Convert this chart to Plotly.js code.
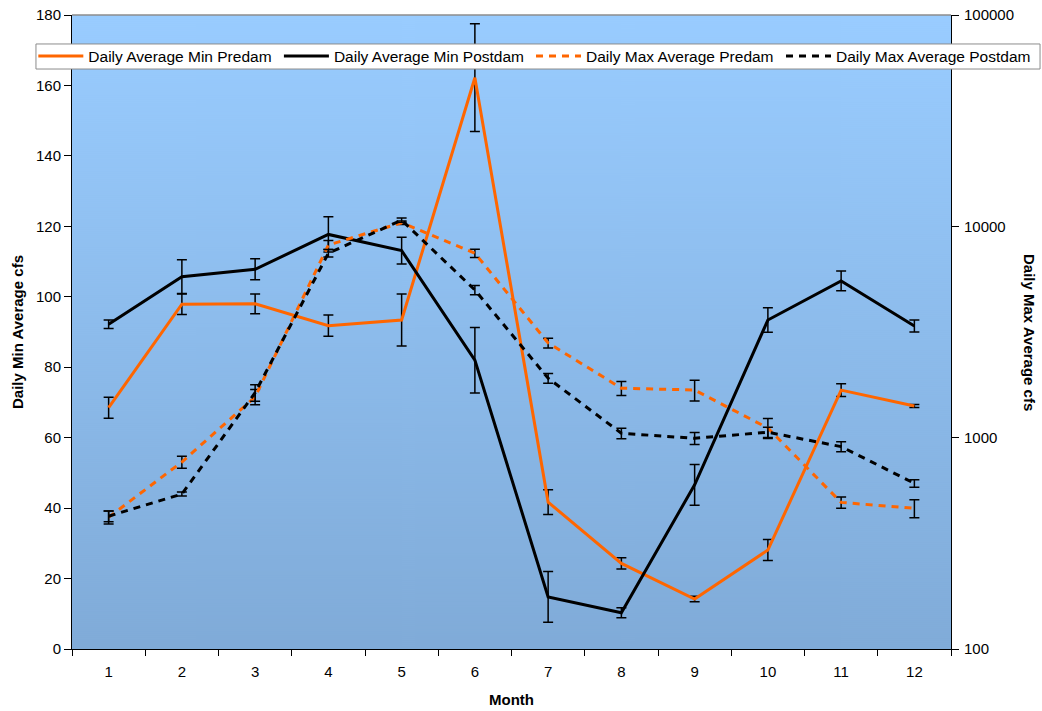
<!DOCTYPE html>
<html>
<head>
<meta charset="utf-8">
<script src="https://cdn.plot.ly/plotly-3.0.1.min.js"></script>
<style>
  html, body { margin: 0; padding: 0; background: #ffffff; }
  #chart { width: 1042px; height: 711px; }
</style>
</head>
<body>
<div id="chart"></div>
<script>
// Months on the category axis
const months = ['1', '2', '3', '4', '5', '6', '7', '8', '9', '10', '11', '12'];

// Daily average minimum flow (cfs), left axis
const minPredam     = [68.5, 97.9, 98.0, 91.8, 93.4, 162.2, 41.7, 24.3, 14.2, 28.1, 73.5, 69.0];
const minPredamErr  = [3.0, 2.9, 2.8, 3.0, 7.4, 15.3, 3.5, 1.6, 0.8, 3.0, 1.8, 0.4];
const minPostdam    = [92.2, 105.7, 107.8, 117.7, 113.1, 82.0, 14.8, 10.3, 46.6, 93.4, 104.5, 91.7];
const minPostdamErr = [1.2, 4.8, 3.0, 5.0, 3.8, 9.3, 7.2, 1.4, 5.8, 3.5, 2.8, 1.7];

// Daily average maximum flow (cfs), right log axis
const maxPredam     = [420, 767, 1560, 8160, 10400, 7460, 2806, 1714, 1681, 1111, 494, 463];
const maxPredamErr  = [30, 50, 130, 400, 200, 330, 150, 130, 190, 120, 30, 45];
const maxPostdam    = [425, 541, 1633, 7460, 10700, 5000, 1910, 1049, 993, 1061, 907, 608];
const maxPostdamErr = [25, 12, 145, 300, 250, 250, 100, 60, 65, 60, 50, 25];

const rightTickVals = [100, 1000, 10000, 100000];
const rightTickText = ['100', '1000', '10000', '100000'];

const seriesNames = ['Daily Average Min Predam', 'Daily Average Min Postdam',
                     'Daily Max Average Predam', 'Daily Max Average Postdam'];

const ORANGE = '#FF6600';
const FONT = 'Liberation Sans, Arial, sans-serif';

function errBars(arr) {
  return { type: 'data', array: arr, symmetric: true, visible: true,
           color: '#000000', thickness: 1.5, width: 5 };
}

// Vertical blue gradient used behind the plot area
function gradientURL() {
  const c = document.createElement('canvas');
  c.width = 4; c.height = 634;
  const g = c.getContext('2d');
  const grd = g.createLinearGradient(0, 0, 0, c.height);
  grd.addColorStop(0, '#99CCFF');
  grd.addColorStop(1, '#80ABD8');
  g.fillStyle = grd;
  g.fillRect(0, 0, c.width, c.height);
  return c.toDataURL('image/png');
}

const traces = [
  { x: months, y: minPredam, error_y: errBars(minPredamErr), type: 'scatter', mode: 'lines',
    name: seriesNames[0], line: { color: ORANGE, width: 3 }, yaxis: 'y', legend: 'legend' },
  { x: months, y: minPostdam, error_y: errBars(minPostdamErr), type: 'scatter', mode: 'lines',
    name: seriesNames[1], line: { color: '#000000', width: 3 }, yaxis: 'y', legend: 'legend2' },
  { x: months, y: maxPredam, error_y: errBars(maxPredamErr), type: 'scatter', mode: 'lines',
    name: seriesNames[2], line: { color: ORANGE, width: 3, dash: '7px,6px' }, yaxis: 'y2', legend: 'legend3' },
  { x: months, y: maxPostdam, error_y: errBars(maxPostdamErr), type: 'scatter', mode: 'lines',
    name: seriesNames[3], line: { color: '#000000', width: 3, dash: '7px,6px' }, yaxis: 'y2', legend: 'legend4' }
];

// One single-row legend strip: each series gets its own legend block laid side by side
function legendAt(x) {
  return {
    orientation: 'h', x: x, y: 0.9345, xanchor: 'left', yanchor: 'middle',
    bgcolor: 'rgba(0,0,0,0)', borderwidth: 0, itemwidth: 45,
    font: { family: FONT, size: 15.5, color: '#000000' }
  };
}

const layout = {
  width: 1042, height: 711,
  margin: { l: 72, r: 91, t: 15, b: 62, autoexpand: false },
  paper_bgcolor: '#ffffff',
  plot_bgcolor: 'rgba(0,0,0,0)',
  font: { family: FONT, size: 15, color: '#000000' },
  showlegend: true,
  legend: legendAt(-0.044),
  legend2: legendAt(0.2354),
  legend3: legendAt(0.5222),
  legend4: legendAt(0.8066),
  xaxis: {
    type: 'category', range: [-0.5, 11.5], tickson: 'boundaries',
    ticks: 'outside', ticklen: 6, tickcolor: '#000000', tickwidth: 1,
    showline: true, linecolor: '#000000', linewidth: 1, showgrid: false, zeroline: false,
    tickfont: { family: FONT, size: 15 }, ticklabelstandoff: 9,
    title: { text: '<b>Month</b>', font: { family: FONT, size: 15 }, standoff: 15 }
  },
  yaxis: {
    range: [0, 180], dtick: 20, tick0: 0,
    ticks: 'outside', ticklen: 7, tickcolor: '#000000', tickwidth: 1,
    showline: true, linecolor: '#000000', linewidth: 1, showgrid: false, zeroline: false,
    tickfont: { family: FONT, size: 15 }
  },
  yaxis2: {
    type: 'log', range: [2, 5], overlaying: 'y', side: 'right',
    tickmode: 'array', tickvals: rightTickVals, ticktext: rightTickText,
    ticks: 'outside', ticklen: 7, tickcolor: '#000000', tickwidth: 1,
    showline: true, linecolor: '#000000', linewidth: 1, showgrid: false, zeroline: false,
    tickfont: { family: FONT, size: 15 }, ticklabelstandoff: 2
  },
  annotations: [
    { text: '<b>Daily Min Average cfs</b>', xref: 'paper', yref: 'paper',
      x: -0.0626, y: 0.5, xanchor: 'center', yanchor: 'middle', textangle: -90, showarrow: false,
      font: { family: FONT, size: 15 } },
    { text: '<b>Daily Max Average cfs</b>', xref: 'paper', yref: 'paper',
      x: 1.0899, y: 0.5, xanchor: 'center', yanchor: 'middle', textangle: 90, showarrow: false,
      font: { family: FONT, size: 15 } }
  ],
  shapes: [
    // grey top edge of the plot frame
    { type: 'line', xref: 'paper', yref: 'paper', x0: 0, x1: 1, y0: 1, y1: 1,
      line: { color: '#8c8c8c', width: 1.5 } },
    // white legend box across the top of the plot
    { type: 'rect', xref: 'paper', yref: 'paper', layer: 'above',
      x0: -0.041, x1: 1.1013, y0: 0.9148, y1: 0.9543,
      fillcolor: '#ffffff', line: { color: '#8c8c8c', width: 1 } }
  ],
  images: [
    { source: gradientURL(), xref: 'paper', yref: 'paper', x: 0, y: 1,
      sizex: 1, sizey: 1, sizing: 'stretch', layer: 'below', xanchor: 'left', yanchor: 'top' }
  ]
};

Plotly.newPlot('chart', traces, layout, { displayModeBar: false, staticPlot: true });
</script>
</body>
</html>
